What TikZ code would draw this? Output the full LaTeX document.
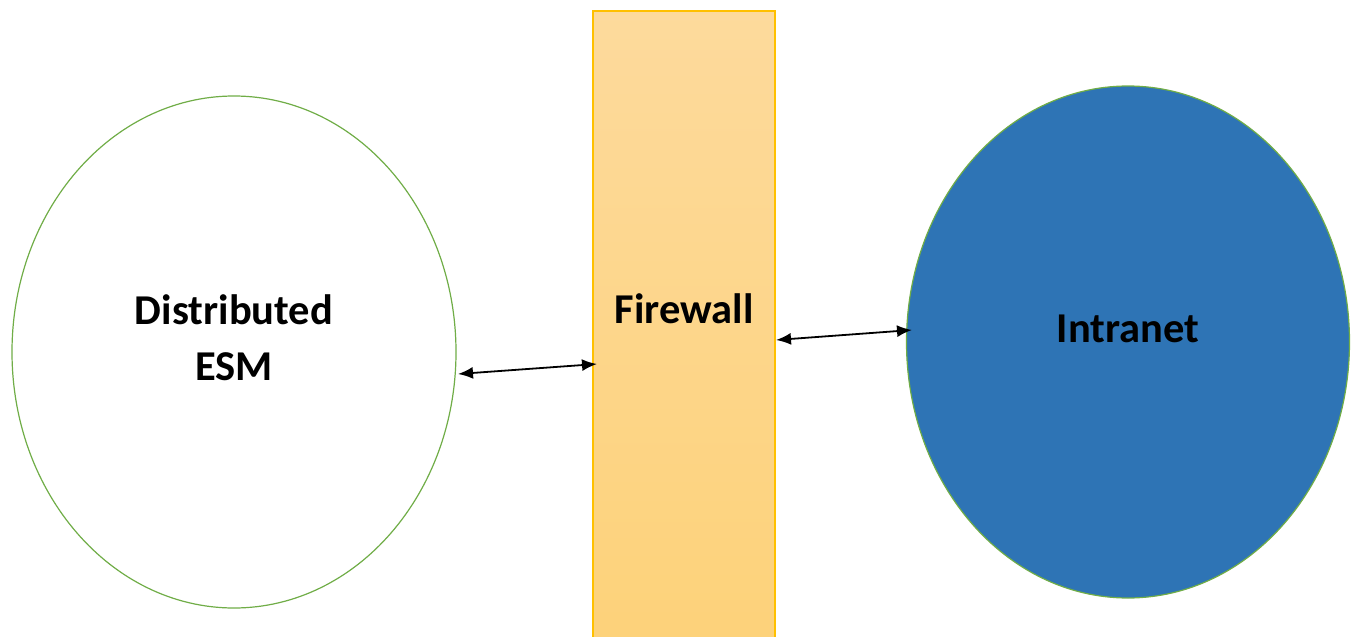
\documentclass[tikz,border=0pt]{standalone}
\usepackage{fontspec}
\setmainfont{Carlito}
\usetikzlibrary{shapes.geometric,arrows.meta}
\definecolor{gborder}{HTML}{70AD47}
\definecolor{iblue}{HTML}{2E74B5}
\definecolor{fwtop}{HTML}{FDDA9C}
\definecolor{fwbot}{HTML}{FDD27A}
\definecolor{fwborder}{HTML}{FFC000}
\tikzset{
  netellipse/.style={ellipse, draw=gborder, line width=1.2pt, inner sep=0pt},
  lbl/.style={font=\bfseries\fontsize{42.5}{56}\selectfont, align=center, text=black},
  link/.style={{Latex[length=15pt,width=12pt]}-{Latex[length=15pt,width=12pt]}, line width=1.8pt, black},
}
\begin{document}
\begin{tikzpicture}[x=1pt,y=-1pt]
\useasboundingbox (0,0) rectangle (1358,637);
\node[netellipse, fill=white, minimum width=444pt, minimum height=512pt] (esm) at (234,352) {};
\node[netellipse, fill=iblue, minimum width=443pt, minimum height=512pt] (intra) at (1128,342) {};
\node[draw=fwborder, line width=1.5pt, top color=fwtop, bottom color=fwbot, minimum width=182pt, minimum height=628pt, inner sep=0pt] (fw) at (684,325) {};
\node[lbl, anchor=base] (t1) at (234,324) {Distributed};
\node[lbl, anchor=base] (t2) at (234,380) {ESM};
\node[lbl, anchor=base] (t3) at (684,323) {Firewall};
\node[lbl, anchor=base] (t4) at (1128,342) {Intranet};
\coordinate (a1) at (458,374);
\coordinate (a2) at (597,364);
\coordinate (b1) at (776,340);
\coordinate (b2) at (912,330);
\draw[link] (a1) -- (a2);
\draw[link] (b1) -- (b2);
\end{tikzpicture}
\end{document}
